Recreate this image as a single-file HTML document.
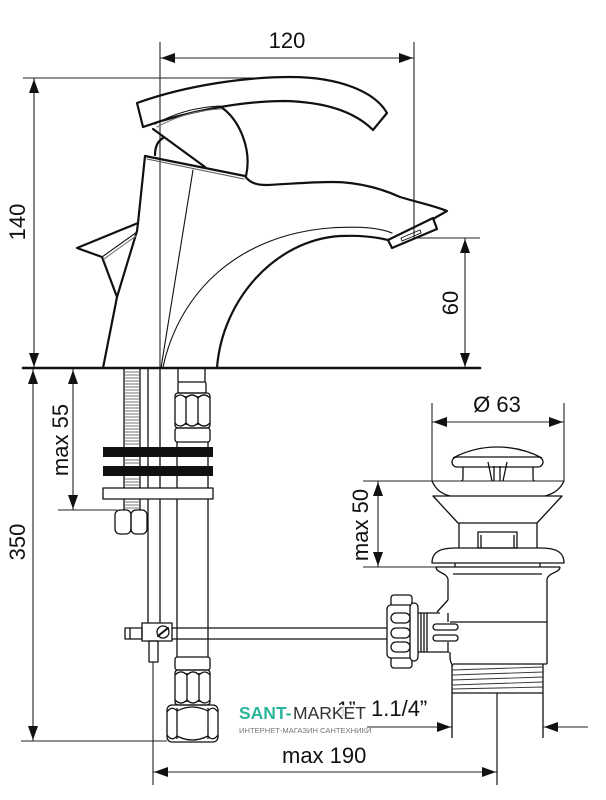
<!DOCTYPE html>
<html><head><meta charset="utf-8"><style>
html,body{margin:0;padding:0;background:#fff;}
svg{display:block;}
text{font-family:"Liberation Sans",Arial,sans-serif;fill:#111;}
</style></head><body>
<svg width="606" height="800" viewBox="0 0 606 800" xmlns="http://www.w3.org/2000/svg">
<rect width="606" height="800" fill="#fff"/>

<!-- ========== DIMENSION LINES ========== -->
<g stroke="#222" stroke-width="1.1" fill="none">
  <!-- 120 -->
  <line x1="160" y1="42" x2="160" y2="368"/>
  <line x1="414" y1="42" x2="414" y2="238"/>
  <line x1="160" y1="58" x2="414" y2="58"/>
  <!-- 140 -->
  <line x1="23" y1="78" x2="255" y2="78"/>
  <line x1="34" y1="78" x2="34" y2="368"/>
  <!-- 60 -->
  <line x1="417" y1="238" x2="480" y2="238"/>
  <line x1="465" y1="238" x2="465" y2="368"/>
  <!-- 350 -->
  <line x1="33" y1="369" x2="33" y2="741"/>
  <line x1="21" y1="741" x2="167" y2="741"/>
  <!-- max 55 -->
  <line x1="73" y1="369" x2="73" y2="510"/>
  <line x1="58" y1="510" x2="117" y2="510"/>
  <!-- max 190 -->
  <line x1="153" y1="662" x2="153" y2="785"/>
  <line x1="497" y1="693" x2="497" y2="785"/>
  <line x1="153" y1="772" x2="497" y2="772"/>
  <!-- 1.1/4 -->
  <line x1="367" y1="727" x2="452" y2="727"/>
  <line x1="543" y1="727" x2="588" y2="727"/>
  <!-- Ø63 -->
  <line x1="432" y1="403" x2="432" y2="481"/>
  <line x1="564" y1="403" x2="564" y2="481"/>
  <line x1="432" y1="422" x2="564" y2="422"/>
  <!-- max 50 -->
  <line x1="363" y1="481" x2="564" y2="481"/>
  <line x1="363" y1="567" x2="440" y2="567"/>
  <line x1="378" y1="481" x2="378" y2="567"/>
</g>

<!-- arrowheads -->
<g fill="#111" stroke="none">
  <polygon points="161,58 175,53 175,63"/>
  <polygon points="413,58 399,53 399,63"/>
  <polygon points="34,79 29,93 39,93"/>
  <polygon points="34,367 29,353 39,353"/>
  <polygon points="465,239 460,253 470,253"/>
  <polygon points="465,367 460,353 470,353"/>
  <polygon points="33,370 28,384 38,384"/>
  <polygon points="33,740 28,726 38,726"/>
  <polygon points="73,370 68,384 78,384"/>
  <polygon points="73,509 68,495 78,495"/>
  <polygon points="154,772 168,767 168,777"/>
  <polygon points="496,772 482,767 482,777"/>
  <polygon points="451,727 437,722 437,732"/>
  <polygon points="544,727 558,722 558,732"/>
  <polygon points="433,422 447,417 447,427"/>
  <polygon points="563,422 549,417 549,427"/>
  <polygon points="378,482 373,496 383,496"/>
  <polygon points="378,566 373,552 383,552"/>
</g>

<!-- ========== FAUCET ========== -->
<g fill="none" stroke="#111" stroke-width="2.2" stroke-linejoin="round" stroke-linecap="round">
  <!-- base line -->
  <line x1="23" y1="368" x2="480" y2="368" stroke-width="2.6"/>
  <!-- lever -->
  <path d="M137,103 C190,84 250,77 290,77 C340,77 375,92 387,113 L373,130 C355,112 325,102 285,101 C240,101 185,112 143,127 Z"/>
  <!-- dome -->
  <path d="M153,129 L205,167"/>
  <path d="M221,107 C240,120 252,150 246,176"/>
  <path d="M155,155 C155,147 158,141 163,138"/>
  <!-- body top -->
  <path d="M145,156 L245,176"/>
  <!-- body left edge -->
  <path d="M145,156 L138,223"/>
  <path d="M117,297 L103,368"/>
  <!-- side knob -->
  <path d="M138,223 L77,248 L102,257 L117,297 L137,231 Z"/>
  <!-- spout top -->
  <path d="M245,176 C249,182 255,185 267,185 C290,184 310,182 333,182 C360,182 385,190 400,197 C420,203 435,206 447,211 L433,219"/>
  <!-- aerator -->
  <path d="M388,240 L392,248 L437,229 L433,218 Z"/>
  <!-- spout inner thick arc -->
  <path d="M217,368 C222,300 275,240 340,236 C365,235 380,238 388,240"/>
</g>
<g fill="none" stroke="#111" stroke-width="1.1" stroke-linecap="round">
  <path d="M155,124 C175,113 198,107 220,106"/>
  <path d="M157,127 C177,116 199,110 221,109" stroke="#777"/>
  <path d="M147,159 L244,179" stroke="#555"/>
  <path d="M102,257 L137,232"/>
  <path d="M104,259 L136,236" stroke="#777"/>
  <path d="M193,170 L161,368"/>
  <path d="M163,367 C180,290 240,235 330,228 C360,226 380,228 392,233"/>
  <path d="M401,238 L420,230 L421,233 L402,241 Z" stroke-width="0.9"/>
</g>

<!-- ========== UNDER-COUNTER FITTINGS ========== -->
<g fill="none" stroke="#111" stroke-width="1.3" stroke-linejoin="round">
  <!-- threaded rod -->
  <line x1="124" y1="369" x2="124" y2="510"/>
  <line x1="140" y1="369" x2="140" y2="510"/>
  <!-- pop-up tube -->
  <line x1="148" y1="369" x2="148" y2="623"/>
  <line x1="160" y1="369" x2="160" y2="623"/>
  <!-- hose top -->
  <line x1="178" y1="369" x2="178" y2="382"/>
  <line x1="205" y1="369" x2="205" y2="382"/>
  <!-- upper hose nut -->
  <rect x="178" y="382" width="28" height="11" rx="1.5"/>
  <rect x="175" y="393" width="35" height="35" rx="3"/>
  <line x1="186" y1="396" x2="186" y2="425"/>
  <line x1="198" y1="396" x2="198" y2="425"/>
  <path d="M175,398 Q180,392 186,398 Q192,392 198,398 Q204,392 210,398"/>
  <path d="M175,423 Q180,429 186,423 Q192,429 198,423 Q204,429 210,423"/>
  <rect x="175" y="428" width="35" height="14" rx="2.5"/>
  <!-- hose below -->
  <line x1="177" y1="442" x2="177" y2="657"/>
  <line x1="208" y1="442" x2="208" y2="657"/>
  <!-- plate -->
  <rect x="103" y="488" width="110" height="11" fill="#fff"/>
  <!-- nut -->
  <rect x="115" y="510" width="16" height="24" rx="5"/>
  <rect x="131" y="510" width="16" height="24" rx="5"/>
  <!-- clamp -->
  <rect x="142" y="623" width="30" height="18"/>
  <rect x="125" y="628" width="17" height="11"/>
  <line x1="130" y1="628" x2="130" y2="639"/>
  <circle cx="163" cy="632" r="6"/>
  <rect x="149" y="641" width="9" height="21"/>
  <!-- horizontal rod -->
  <line x1="172" y1="628" x2="387" y2="628"/>
  <line x1="172" y1="639" x2="387" y2="639"/>
  <!-- lower hose nuts -->
  <rect x="175" y="657" width="35" height="13" rx="2.5"/>
  <rect x="175" y="670" width="35" height="35" rx="3"/>
  <line x1="187" y1="673" x2="187" y2="702"/>
  <line x1="199" y1="673" x2="199" y2="702"/>
  <path d="M175,675 Q181,669 187,675 Q193,669 199,675 Q205,669 210,675"/>
  <path d="M175,700 Q181,706 187,700 Q193,706 199,700 Q205,706 210,700"/>
  <rect x="167" y="705" width="51" height="37" rx="5"/>
  <line x1="177" y1="708" x2="177" y2="739"/>
  <line x1="208" y1="708" x2="208" y2="739"/>
  <path d="M167,712 Q172,705 177,711 Q192,703 208,711 Q213,705 218,712"/>
  <path d="M167,735 Q172,742 177,736 Q192,744 208,736 Q213,742 218,735"/>
</g>
<g stroke="#111" stroke-width="2" stroke-linecap="round">
  <line x1="158" y1="636" x2="168" y2="628"/>
</g>
<!-- rod hatch -->
<g stroke="#555" stroke-width="0.8">
  <line x1="124" y1="372" x2="140" y2="372"/><line x1="124" y1="375" x2="140" y2="375"/>
  <line x1="124" y1="378" x2="140" y2="378"/><line x1="124" y1="381" x2="140" y2="381"/>
  <line x1="124" y1="384" x2="140" y2="384"/><line x1="124" y1="387" x2="140" y2="387"/>
  <line x1="124" y1="390" x2="140" y2="390"/><line x1="124" y1="393" x2="140" y2="393"/>
  <line x1="124" y1="396" x2="140" y2="396"/><line x1="124" y1="399" x2="140" y2="399"/>
  <line x1="124" y1="402" x2="140" y2="402"/><line x1="124" y1="405" x2="140" y2="405"/>
  <line x1="124" y1="408" x2="140" y2="408"/><line x1="124" y1="411" x2="140" y2="411"/>
  <line x1="124" y1="414" x2="140" y2="414"/><line x1="124" y1="417" x2="140" y2="417"/>
  <line x1="124" y1="420" x2="140" y2="420"/><line x1="124" y1="423" x2="140" y2="423"/>
  <line x1="124" y1="426" x2="140" y2="426"/><line x1="124" y1="429" x2="140" y2="429"/>
  <line x1="124" y1="432" x2="140" y2="432"/><line x1="124" y1="435" x2="140" y2="435"/>
  <line x1="124" y1="438" x2="140" y2="438"/><line x1="124" y1="441" x2="140" y2="441"/>
  <line x1="124" y1="444" x2="140" y2="444"/><line x1="124" y1="460" x2="140" y2="460"/>
  <line x1="124" y1="463" x2="140" y2="463"/><line x1="124" y1="479" x2="140" y2="479"/>
  <line x1="124" y1="482" x2="140" y2="482"/><line x1="124" y1="485" x2="140" y2="485"/>
  <line x1="124" y1="502" x2="140" y2="502"/><line x1="124" y1="505" x2="140" y2="505"/>
  <line x1="124" y1="508" x2="140" y2="508"/>
</g>
<!-- black bars -->
<rect x="103" y="447" width="110" height="10" fill="#111"/>
<rect x="103" y="466" width="110" height="10" fill="#111"/>

<!-- ========== DRAIN ========== -->
<g fill="none" stroke="#111" stroke-width="1.3" stroke-linejoin="round">
  <!-- cap -->
  <path d="M453,458 C470,449 485,447 497,447 C510,447 525,449 542,458"/>
  <rect x="452" y="457" width="91" height="10" rx="5" fill="#fff"/>
  <path d="M463,467 L463,478 Q463,481 461,481"/>
  <path d="M533,467 L533,478 Q533,481 535,481"/>
  <path d="M488,462 L492,481 M507,462 L503,481 M494,466 L494,481 M500,466 L500,481"/>
  <!-- flange curves -->
  <path d="M432,481 C436,490 442,494 450,496"/>
  <path d="M564,481 C560,490 553,494 545,496"/>
  <!-- cone -->
  <path d="M433,496 L562,496 L537,523 L458,523 Z"/>
  <!-- neck -->
  <line x1="459" y1="523" x2="459" y2="548"/>
  <line x1="537" y1="523" x2="537" y2="548"/>
  <rect x="478" y="532" width="39" height="16"/>
  <line x1="481" y1="535" x2="481" y2="548"/>
  <line x1="514" y1="535" x2="514" y2="548"/>
  <!-- flange -->
  <path d="M432,563 C432,552 440,548 455,548 L541,548 C556,548 564,552 564,563 Z"/>
  <line x1="455" y1="563" x2="455" y2="567"/>
  <line x1="540" y1="563" x2="540" y2="567"/>
  <line x1="436" y1="567" x2="560" y2="567"/>
  <!-- collar -->
  <path d="M436,567 C436,573 446,572 448,579"/>
  <path d="M560,567 C560,573 549,572 547,579"/>
  <line x1="453" y1="574" x2="542" y2="574"/>
  <!-- body -->
  <line x1="448" y1="579" x2="448" y2="600"/>
  <line x1="448" y1="600" x2="437" y2="612"/>
  <line x1="547" y1="579" x2="547" y2="664"/>
  <line x1="450" y1="622" x2="547" y2="622"/>
  <path d="M450,652 L450,657 Q450,662 453,666"/>
  <line x1="453" y1="664" x2="547" y2="664"/>
  <!-- threads -->
  <line x1="452" y1="664" x2="452" y2="738"/>
  <line x1="543" y1="664" x2="543" y2="738"/>
  <line x1="452" y1="693" x2="543" y2="693"/>
  <line x1="497" y1="693" x2="497" y2="785" stroke-width="1.1"/>
  <!-- connector nut -->
  <rect x="391" y="595" width="21" height="14" rx="3" fill="#fff"/>
  <rect x="391" y="654" width="21" height="14" rx="3" fill="#fff"/>
  <rect x="387" y="605" width="26" height="53" rx="4" fill="#fff"/>
  <rect x="410" y="603" width="8" height="58" rx="4" fill="#fff"/>
  <rect x="391" y="613" width="19" height="10" rx="5"/>
  <rect x="391" y="628" width="19" height="10" rx="5"/>
  <rect x="391" y="642" width="19" height="10" rx="5"/>
  <!-- adapter -->
  <path d="M418,613 L440,613 M418,652 L449,652"/>
  <line x1="421" y1="613" x2="421" y2="652"/>
  <line x1="424" y1="613" x2="424" y2="652"/>
  <line x1="427" y1="613" x2="427" y2="652"/>
  <line x1="448" y1="613" x2="448" y2="622"/>
  <line x1="448" y1="642" x2="448" y2="652"/>
  <rect x="433" y="624" width="25" height="6" rx="3" fill="#fff"/>
  <rect x="433" y="635" width="25" height="6" rx="3" fill="#fff"/>
</g>
<g stroke="#333" stroke-width="0.9" fill="none">
  <line x1="452" y1="670" x2="543" y2="667"/>
  <line x1="452" y1="675" x2="543" y2="672"/>
  <line x1="452" y1="680" x2="543" y2="677"/>
  <line x1="452" y1="685" x2="543" y2="682"/>
  <line x1="452" y1="689" x2="543" y2="687"/>
</g>

<!-- ========== TEXT ========== -->
<text x="287" y="48" font-size="22" text-anchor="middle">120</text>
<text transform="translate(25,222) rotate(-90)" font-size="22" text-anchor="middle">140</text>
<text transform="translate(458,303) rotate(-90)" font-size="22" text-anchor="middle">60</text>
<text transform="translate(25,542) rotate(-90)" font-size="22" text-anchor="middle">350</text>
<text transform="translate(68,440) rotate(-90)" font-size="22" text-anchor="middle">max 55</text>
<text transform="translate(368,525) rotate(-90)" font-size="22" text-anchor="middle">max 50</text>
<text x="497" y="412" font-size="22" text-anchor="middle">Ø 63</text>
<text x="337" y="716" font-size="21">1”</text>
<text x="371" y="716" font-size="22">1.1/4”</text>
<text x="282" y="763" font-size="22">max 190</text>

<!-- watermark -->
<rect x="236" y="705" width="131" height="29" fill="#fff" opacity="0.85"/>
<text x="239" y="719" font-size="17.5" font-weight="bold" style="fill:#2bb59a">SANT-</text>
<text x="293" y="719" font-size="17.5" style="fill:#333">MARKET</text>
<text x="239" y="733" font-size="7.6" style="fill:#777">ИНТЕРНЕТ-МАГАЗИН САНТЕХНИКИ</text>
</svg>
</body></html>
